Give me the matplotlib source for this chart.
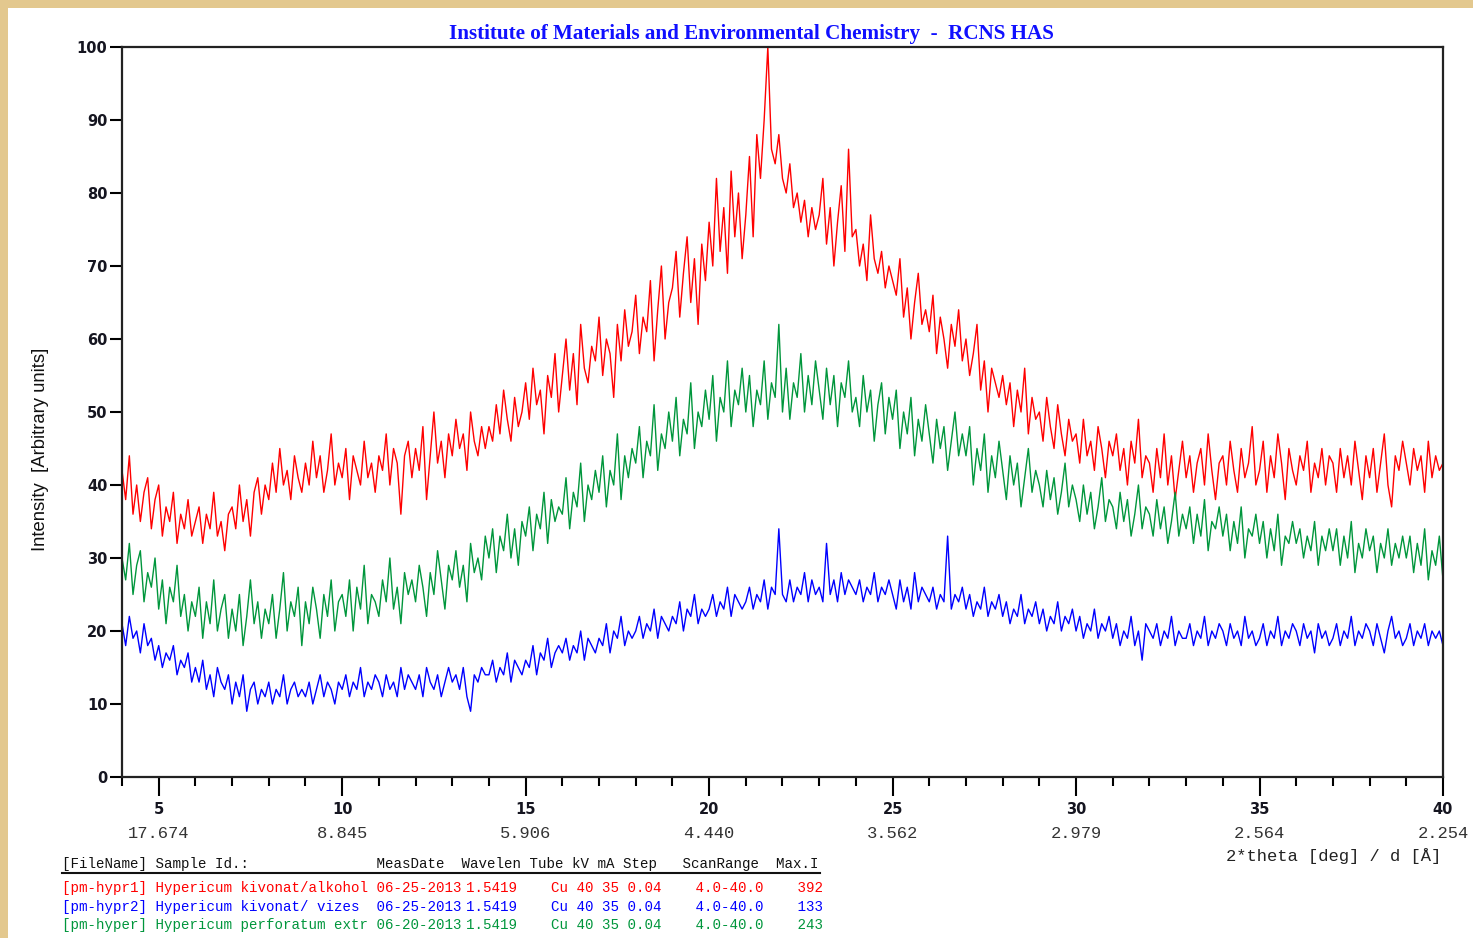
import matplotlib.pyplot as plt
import numpy as np
from matplotlib.patches import Rectangle
from matplotlib.transforms import blended_transform_factory

W, H = 1473, 938

# scan grid: 4.0 - 40.0 deg, values read every 0.1 deg
two_theta = np.round(np.linspace(4, 40, 361), 1)

# pm-hypr1  Hypericum kivonat/alkohol (red)
hypr1 = [
    42, 38, 44, 36, 40, 35, 39, 41, 34, 38,
    40, 33, 37, 35, 39, 32, 36, 34, 38, 33,
    35, 37, 32, 36, 34, 39, 33, 35, 31, 36,
    37, 34, 40, 35, 38, 33, 39, 41, 36, 40,
    38, 43, 39, 45, 40, 42, 38, 44, 41, 39,
    43, 40, 46, 41, 44, 39, 42, 47, 40, 43,
    41, 45, 38, 44, 42, 40, 46, 41, 43, 39,
    44, 42, 47, 40, 45, 43, 36, 44, 46, 41,
    45, 42, 48, 38, 44, 50, 43, 46, 41, 47,
    44, 49, 45, 47, 42, 50, 46, 44, 48, 45,
    48, 46, 51, 47, 53, 49, 46, 52, 48, 50,
    54, 49, 56, 51, 53, 47, 55, 52, 58, 50,
    55, 60, 53, 58, 51, 62, 56, 54, 59, 57,
    63, 55, 60, 58, 52, 62, 57, 64, 59, 61,
    66, 58, 63, 61, 68, 57, 64, 70, 60, 65,
    67, 72, 63, 69, 74, 65, 71, 62, 73, 68,
    76, 70, 82, 72, 78, 69, 83, 74, 80, 71,
    77, 85, 74, 88, 82, 90, 100, 86, 84, 88,
    82, 80, 84, 78, 80, 76, 79, 74, 78, 75,
    77, 82, 73, 78, 70, 76, 81, 72, 86, 74,
    75, 70, 73, 68, 77, 71, 69, 72, 67, 70,
    68, 66, 71, 63, 67, 60, 65, 69, 62, 64,
    61, 66, 58, 63, 60, 56, 62, 59, 64, 57,
    60, 55, 58, 62, 53, 57, 50, 56, 54, 52,
    55, 51, 54, 48, 53, 50, 56, 47, 52, 49,
    50, 46, 52, 48, 45, 51, 47, 44, 49, 46,
    47, 43, 49, 44, 46, 42, 48, 45, 41, 46,
    44, 47, 42, 45, 40, 46, 43, 49, 41, 44,
    43, 39, 45, 41, 47, 40, 44, 38, 42, 46,
    41, 44, 39, 43, 45, 40, 47, 42, 38, 43,
    44, 40, 46, 42, 39, 45, 41, 43, 48, 40,
    42, 46, 39, 44, 41, 47, 43, 38, 45, 42,
    40, 44, 42, 46, 39, 43, 41, 45, 40, 44,
    43, 39, 45, 41, 44, 40, 46, 42, 38, 44,
    41, 45, 39, 43, 47, 40, 37, 44, 42, 46,
    43, 40, 45, 42, 44, 39, 46, 41, 44, 42,
    43,
]

# pm-hypr2  Hypericum kivonat/ vizes (blue)
hypr2 = [
    21, 18, 22, 19, 20, 17, 21, 18, 19, 16,
    18, 15, 17, 16, 18, 14, 16, 15, 17, 13,
    15, 13, 16, 12, 14, 11, 15, 13, 12, 14,
    10, 13, 11, 14, 9, 12, 13, 10, 12, 11,
    13, 10, 12, 11, 14, 10, 12, 13, 11, 12,
    11, 13, 10, 12, 14, 11, 13, 12, 10, 13,
    12, 14, 11, 13, 12, 15, 11, 13, 12, 14,
    13, 11, 14, 12, 13, 11, 15, 12, 14, 13,
    12, 14, 11, 15, 13, 12, 14, 11, 13, 15,
    13, 14, 12, 15, 11, 9, 14, 13, 15, 14,
    14, 16, 13, 15, 14, 17, 13, 16, 15, 14,
    16, 15, 18, 14, 17, 16, 19, 15, 17, 18,
    17, 19, 16, 18, 17, 20, 16, 19, 18, 17,
    19, 18, 21, 17, 20, 19, 22, 18, 20, 19,
    20, 22, 19, 21, 20, 23, 19, 22, 21, 20,
    22, 21, 24, 20, 23, 22, 25, 21, 23, 22,
    23, 25, 22, 24, 23, 26, 22, 25, 24, 23,
    24, 26, 23, 25, 24, 27, 23, 26, 25, 34,
    25, 24, 27, 24, 26, 25, 28, 24, 27, 25,
    26, 24, 32, 25, 27, 24, 28, 25, 27, 26,
    25, 27, 24, 26, 25, 28, 24, 26, 25, 27,
    25, 23, 27, 24, 26, 23, 28, 24, 26, 25,
    24, 26, 23, 25, 24, 33, 23, 25, 24, 26,
    23, 25, 22, 24, 23, 26, 22, 24, 23, 25,
    22, 24, 21, 23, 22, 25, 21, 23, 22, 24,
    21, 23, 20, 22, 21, 24, 20, 22, 21, 23,
    20, 22, 19, 21, 20, 23, 19, 21, 20, 22,
    19, 21, 18, 20, 19, 22, 18, 20, 16, 21,
    20, 19, 21, 18, 20, 19, 22, 18, 20, 19,
    19, 21, 18, 20, 19, 22, 18, 20, 19, 21,
    20, 18, 21, 19, 20, 18, 22, 19, 20, 18,
    19, 21, 18, 20, 19, 22, 18, 20, 19, 21,
    20, 18, 21, 19, 20, 17, 21, 19, 20, 18,
    19, 21, 18, 20, 19, 22, 18, 20, 19, 21,
    20, 18, 21, 19, 17, 20, 22, 19, 20, 18,
    19, 21, 18, 20, 19, 21, 18, 20, 19, 20,
    18,
]

# pm-hyper  Hypericum perforatum extr (green)
hyper = [
    30, 27, 32, 25, 29, 31, 24, 28, 26, 30,
    23, 27, 21, 26, 24, 29, 22, 25, 20, 24,
    22, 26, 19, 24, 21, 27, 20, 23, 25, 19,
    23, 20, 25, 18, 22, 27, 21, 24, 19, 23,
    21, 25, 19, 23, 28, 20, 24, 22, 26, 18,
    24, 21, 26, 23, 19, 25, 22, 27, 20, 24,
    25, 22, 27, 20, 26, 23, 29, 21, 25, 24,
    22, 27, 24, 30, 23, 26, 21, 28, 25, 27,
    24, 29, 26, 22, 28, 25, 31, 27, 23, 29,
    27, 31, 26, 29, 24, 32, 28, 30, 27, 33,
    30, 34, 28, 33, 31, 36, 30, 34, 29, 35,
    33, 37, 31, 36, 34, 39, 32, 38, 35, 37,
    36, 41, 34, 39, 37, 43, 35, 40, 38, 42,
    39, 44, 37, 42, 40, 47, 38, 44, 41, 45,
    43, 48, 41, 46, 44, 51, 42, 47, 45, 50,
    46, 52, 44, 49, 47, 54, 45, 50, 48, 53,
    49, 55, 46, 52, 50, 57, 48, 53, 51, 56,
    50, 55, 48, 53, 51, 57, 49, 54, 52, 62,
    50, 56, 49, 54, 52, 58, 50, 55, 51, 57,
    53, 49, 56, 51, 55, 48, 54, 52, 57, 50,
    52, 48, 55, 50, 53, 46, 51, 54, 47, 52,
    49, 53, 45, 50, 47, 52, 44, 49, 46, 51,
    47, 43, 49, 45, 48, 42, 46, 50, 44, 47,
    44, 48, 40, 45, 42, 47, 39, 44, 41, 46,
    42, 38, 44, 40, 43, 37, 41, 45, 39, 42,
    40, 37, 42, 38, 41, 36, 39, 43, 37, 40,
    38, 35, 40, 36, 39, 34, 37, 41, 35, 38,
    37, 34, 39, 35, 38, 33, 36, 40, 34, 37,
    36, 33, 38, 34, 37, 32, 35, 39, 33, 36,
    34, 37, 32, 36, 33, 38, 31, 35, 34, 37,
    33, 36, 31, 35, 32, 37, 30, 34, 33, 36,
    32, 35, 30, 34, 31, 36, 29, 33, 32, 35,
    32, 34, 30, 33, 31, 35, 29, 33, 31, 34,
    31, 34, 29, 33, 30, 35, 28, 32, 30, 34,
    31, 33, 28, 32, 30, 34, 29, 32, 30, 33,
    30, 33, 28, 32, 29, 34, 27, 31, 29, 33,
    27,
]

major_ticks = [5, 10, 15, 20, 25, 30, 35, 40]
d_labels = ["17.674", "8.845", "5.906", "4.440", "3.562", "2.979", "2.564", "2.254"]
y_ticks = [0, 10, 20, 30, 40, 50, 60, 70, 80, 90, 100]

table_header = "[FileName] Sample Id.:" + " " * 15 + "MeasDate  Wavelen Tube kV mA Step   ScanRange  Max.I"
table_rows = [
    "[pm-hypr1] Hypericum kivonat/alkohol 06-25-2013",
    "[pm-hypr2] Hypericum kivonat/ vizes  06-25-2013",
    "[pm-hyper] Hypericum perforatum extr 06-20-2013",
]
table_rest = [
    "1.5419    Cu 40 35 0.04    4.0-40.0    392",
    "1.5419    Cu 40 35 0.04    4.0-40.0    133",
    "1.5419    Cu 40 35 0.04    4.0-40.0    243",
]

RED = "#ff0000"
BLUE = "#0000ff"
GREEN = "#00963c"
row_colors = [RED, BLUE, GREEN]

fig = plt.figure(figsize=(W / 100, H / 100), dpi=100)
fig.patch.set_facecolor("#e3c88e")
fig.add_artist(Rectangle((8 / W, 0), 1, (H - 8) / H, transform=fig.transFigure,
                         facecolor="white", edgecolor="none", zorder=0))

ax = fig.add_axes([122 / W, 1 - 777 / H, (1443 - 122) / W, (777 - 47) / H])
ax.plot(two_theta, hypr1, color=RED, lw=1.0)
ax.plot(two_theta, hypr2, color=BLUE, lw=1.0)
ax.plot(two_theta, hyper, color=GREEN, lw=1.0)

ax.set_xlim(4, 40)
ax.set_ylim(0, 100)
for s in ax.spines.values():
    s.set_linewidth(1.6)
    s.set_color("#222222")

ax.set_xticks(major_ticks)
ax.set_xticks(np.arange(4, 41, 1), minor=True)
ax.set_yticks(y_ticks)
ax.tick_params(axis="x", which="major", direction="out", length=14, width=1.5,
               pad=4, labelsize=10.5, labelcolor="#151520")
ax.tick_params(axis="x", which="minor", direction="out", length=6.5, width=1.5)
ax.tick_params(axis="y", direction="out", length=8.5, width=1.5, pad=2,
               labelsize=10.5, labelcolor="#151520")
for lab in ax.get_xticklabels() + ax.get_yticklabels():
    lab.set_fontweight("bold")
    lab.set_family("DejaVu Sans")

# d-spacing labels below the 2theta labels
trans = blended_transform_factory(ax.transData, ax.transAxes)
for t, d in zip(major_ticks, d_labels):
    ax.text(t, (777 - 833) / 730, d, transform=trans, ha="center", va="center",
            family="Liberation Mono", fontsize=12.3, color="#333333")

fig.text(1441 / W, 1 - 856 / H, "2*theta [deg] / d [Å]", ha="right", va="center",
         family="Liberation Mono", fontsize=12.3, color="#222222")

fig.text(751 / W, 1 - 34 / H, "Institute of Materials and Environmental Chemistry  -  RCNS HAS",
         ha="center", va="center", family="Liberation Serif", fontweight="bold",
         fontsize=15.2, color="#1010ff")

fig.text(41 / W, 1 - 449 / H, "Intensity  [Arbitrary units]", rotation=90,
         ha="center", va="center", family="Liberation Sans", fontsize=13.3, color="#111111")

# sample table
fig.text(62 / W, 1 - 864 / H, table_header, ha="left", va="center",
         family="Liberation Mono", fontsize=10.2, color="#111111")
fig.add_artist(plt.Line2D([62 / W, 820 / W], [1 - 873 / H, 1 - 873 / H],
                          transform=fig.transFigure, color="#111111", lw=1.5))
row_y = [888, 907, 925]
for name, rest, c, y in zip(table_rows, table_rest, row_colors, row_y):
    fig.text(62 / W, 1 - y / H, name, ha="left", va="center",
             family="Liberation Mono", fontsize=10.2, color=c)
    fig.text(466 / W, 1 - y / H, rest, ha="left", va="center",
             family="Liberation Mono", fontsize=10.2, color=c)

fig.savefig("out.png", dpi=100, facecolor=fig.get_facecolor())
